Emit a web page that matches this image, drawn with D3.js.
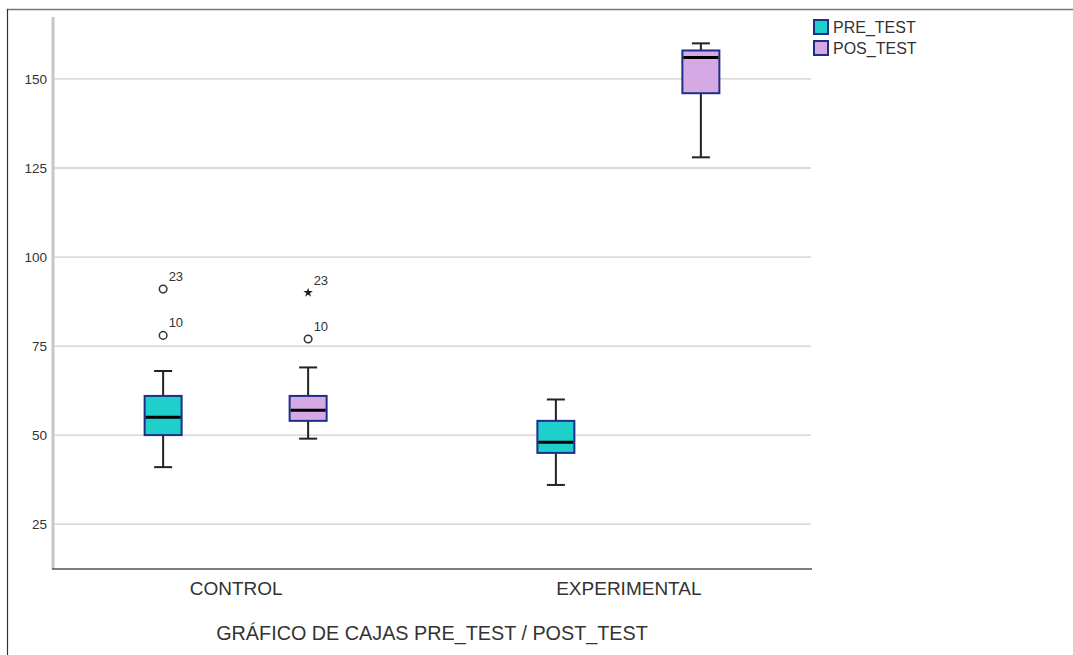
<!DOCTYPE html>
<html>
<head>
<meta charset="utf-8">
<script src="https://cdn.jsdelivr.net/npm/d3@7"></script>
<style>
  html, body { margin: 0; padding: 0; background: #fff; }
  svg { display: block; }
  text { font-family: "Liberation Sans", Arial, sans-serif; fill: #333; }
</style>
</head>
<body>
<svg id="chart" width="1073" height="655"></svg>
<script>
// Groups and measurement series
const groups = ["CONTROL", "EXPERIMENTAL"];
const series = ["PRE_TEST", "POS_TEST"];
const seriesColors = ["#1ecfcc", "#d4a9e4"];

// Five-number summaries per group, [PRE_TEST, POS_TEST]
const whiskerLow  = [[41, 49], [36, 128]];
const q1          = [[50, 54], [45, 146]];
const median      = [[55, 57], [48, 156]];
const q3          = [[61, 61], [54, 158]];
const whiskerHigh = [[68, 69], [60, 160]];

// Outlying cases: group, series, value, case id, kind
const outliers = [
  { group: "CONTROL", series: "PRE_TEST", value: 91, id: "23", kind: "circle" },
  { group: "CONTROL", series: "PRE_TEST", value: 78, id: "10", kind: "circle" },
  { group: "CONTROL", series: "POS_TEST", value: 90, id: "23", kind: "star" },
  { group: "CONTROL", series: "POS_TEST", value: 77, id: "10", kind: "circle" }
];

const yTicks = [25, 50, 75, 100, 125, 150];

const svg = d3.select("#chart");
const W = 1073, H = 655;

// Outer frame (top and left edges)
svg.append("line").attr("x1", 7).attr("x2", W).attr("y1", 9.5).attr("y2", 9.5)
  .attr("stroke", "#777").attr("stroke-width", 1.5);
svg.append("line").attr("x1", 7.5).attr("x2", 7.5).attr("y1", 9).attr("y2", H)
  .attr("stroke", "#333").attr("stroke-width", 1.2);

const plot = { left: 53, right: 811, top: 17, bottom: 569 };

const y = d3.scaleLinear().domain([12.4, 167.4]).range([plot.bottom, plot.top]);
const x = d3.scalePoint().domain(groups).range([plot.left, plot.right]).padding(0.465);
const xs = d3.scalePoint().domain(series).range([-72.5, 72.5]);

const boxW = 37, capW = 18;

// Horizontal grid lines
svg.append("g")
  .selectAll("line").data(yTicks).join("line")
  .attr("x1", plot.left).attr("x2", plot.right)
  .attr("y1", d => y(d)).attr("y2", d => y(d))
  .attr("stroke", "#cfcfcf").attr("stroke-width", 1.3);

// Y axis
const yAxis = svg.append("g")
  .attr("transform", `translate(${plot.left},0)`)
  .call(d3.axisLeft(y).tickValues(yTicks).tickSize(0).tickPadding(6));
yAxis.select(".domain").remove();
yAxis.selectAll("text")
  .style("font-family", "'Liberation Sans', Arial, sans-serif")
  .style("font-size", "13.5px").style("fill", "#333");
svg.append("line").attr("x1", plot.left).attr("x2", plot.left)
  .attr("y1", plot.top).attr("y2", plot.bottom)
  .attr("stroke", "#c6c6c6").attr("stroke-width", 3);

// X axis baseline and group labels
svg.append("line").attr("x1", plot.left - 1).attr("x2", plot.right + 1)
  .attr("y1", plot.bottom).attr("y2", plot.bottom)
  .attr("stroke", "#555").attr("stroke-width", 1.6);
const xAxis = svg.append("g")
  .attr("transform", `translate(0,${plot.bottom})`)
  .call(d3.axisBottom(x).tickSize(0).tickPadding(13));
xAxis.select(".domain").remove();
xAxis.selectAll("text")
  .style("font-family", "'Liberation Sans', Arial, sans-serif")
  .style("font-size", "19px").style("fill", "#333");

// Axis title
svg.append("text")
  .attr("x", 432).attr("y", 640)
  .attr("text-anchor", "middle")
  .style("font-size", "19.8px")
  .text("GRÁFICO DE CAJAS PRE_TEST / POST_TEST");

// Box plots
const boxes = [];
groups.forEach((g, gi) => {
  series.forEach((s, si) => {
    boxes.push({
      group: g, series: s, color: seriesColors[si],
      lo: whiskerLow[gi][si], q1: q1[gi][si], med: median[gi][si],
      q3: q3[gi][si], hi: whiskerHigh[gi][si]
    });
  });
});

const bg = svg.append("g").selectAll("g").data(boxes).join("g")
  .attr("transform", d => `translate(${x(d.group) + xs(d.series)},0)`);

// Whisker stems
bg.append("line").attr("x1", 0).attr("x2", 0)
  .attr("y1", d => y(d.hi)).attr("y2", d => y(d.q3))
  .attr("stroke", "#222").attr("stroke-width", 2);
bg.append("line").attr("x1", 0).attr("x2", 0)
  .attr("y1", d => y(d.q1)).attr("y2", d => y(d.lo))
  .attr("stroke", "#222").attr("stroke-width", 2);
// Whisker caps
bg.append("line").attr("x1", -capW / 2).attr("x2", capW / 2)
  .attr("y1", d => y(d.hi)).attr("y2", d => y(d.hi))
  .attr("stroke", "#222").attr("stroke-width", 2);
bg.append("line").attr("x1", -capW / 2).attr("x2", capW / 2)
  .attr("y1", d => y(d.lo)).attr("y2", d => y(d.lo))
  .attr("stroke", "#222").attr("stroke-width", 2);
// Boxes
bg.append("rect")
  .attr("x", -boxW / 2).attr("width", boxW)
  .attr("y", d => y(d.q3)).attr("height", d => y(d.q1) - y(d.q3))
  .attr("fill", d => d.color)
  .attr("stroke", "#1f2e8a").attr("stroke-width", 2);
// Medians
bg.append("line").attr("x1", -boxW / 2 + 1).attr("x2", boxW / 2 - 1)
  .attr("y1", d => y(d.med)).attr("y2", d => y(d.med))
  .attr("stroke", "#000").attr("stroke-width", 3);

// Outliers
const og = svg.append("g").selectAll("g").data(outliers).join("g")
  .attr("transform", d => `translate(${x(d.group) + xs(d.series)},${y(d.value)})`);
og.filter(d => d.kind === "circle").append("circle")
  .attr("r", 3.8).attr("fill", "#fff").attr("stroke", "#333").attr("stroke-width", 1.5);
og.filter(d => d.kind === "star").append("path")
  .attr("d", d3.symbol().type(d3.symbolStar).size(28))
  .attr("fill", "#222");
og.append("text")
  .attr("x", 5.5).attr("y", -8)
  .style("font-size", "13px")
  .text(d => d.id);

// Legend
const lg = svg.append("g").selectAll("g").data(series).join("g")
  .attr("transform", (d, i) => `translate(814,${20 + i * 21})`);
lg.append("rect")
  .attr("width", 14).attr("height", 14)
  .attr("fill", (d, i) => seriesColors[i])
  .attr("stroke", "#1f2e8a").attr("stroke-width", 2);
lg.append("text")
  .attr("x", 19).attr("y", 13)
  .style("font-size", "16px")
  .text(d => d);
</script>
</body>
</html>
